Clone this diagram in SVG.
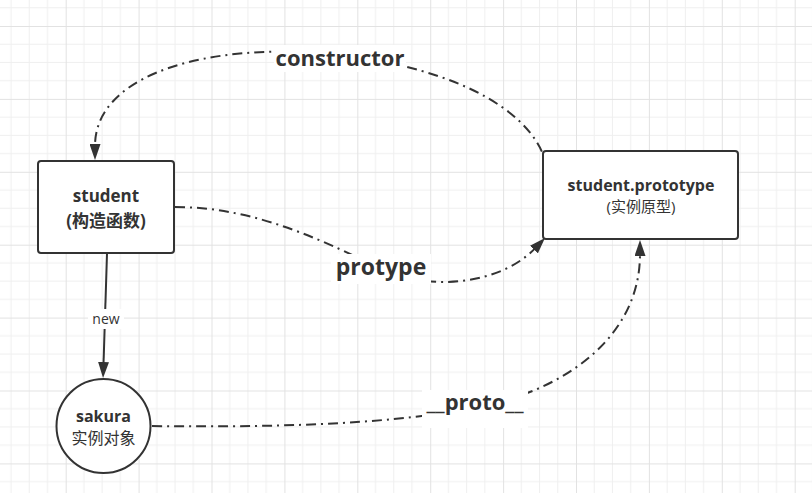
<svg xmlns="http://www.w3.org/2000/svg" width="812" height="493" viewBox="0 0 812 493">
<style>
.node{fill:#fff;stroke:#333;stroke-width:2}
.edge{fill:none;stroke:#333;stroke-width:2;stroke-dasharray:10 5 2 5}
.solid{fill:none;stroke:#333;stroke-width:2}
text{font-family:"Open Sans","Noto Sans CJK SC",sans-serif;fill:#333;text-anchor:middle}
.b{font-weight:bold}
.lbl{font-size:22px;font-weight:bold}
.bg{fill:#fff}
</style>
<defs>
<pattern id="grid" patternUnits="userSpaceOnUse" x="65.7" y="26" width="72.9" height="72.9">
<path d="M18.22 0V72.9M36.45 0V72.9M54.67 0V72.9M0 18.22H72.9M0 36.45H72.9M0 54.67H72.9" stroke="#efefef" stroke-width="1" fill="none"/>
<path d="M0.5 0V72.9M0 0.5H72.9" stroke="#e2e2e2" stroke-width="1" fill="none"/>
</pattern>
<marker id="arr" viewBox="0 0 16 11" markerWidth="16" markerHeight="11" markerUnits="userSpaceOnUse" refX="2" refY="5.5" orient="auto">
<path d="M0,0L16,5.5L0,11Z" fill="#333"/>
</marker>
</defs>
<rect width="812" height="493" fill="#fff"/>
<rect width="812" height="493" fill="url(#grid)"/>
<g id="connectors">
<g id="edge-new">
<path class="solid" d="M107 254L103.5 364" marker-end="url(#arr)"/>
<rect class="bg" x="88" y="309" width="36" height="20"/>
<text x="106" y="324" font-size="14">new</text>
</g>
<g id="edge-constructor">
<path class="edge" d="M545 195L545 160C530 110 450 60 300 52C190 48 95 80 95 146" marker-end="url(#arr)"/>
<rect class="bg" x="274" y="45" width="132" height="27"/>
<text class="lbl" x="340" y="66">constructor</text>
</g>
<g id="edge-protype">
<path class="edge" d="M175 207C260 207 330 245 380 268C428 292 500 285 535.3 248.1" marker-end="url(#arr)"/>
<rect class="bg" x="331" y="254" width="100" height="30"/>
<text x="381" y="275" font-size="23" font-weight="bold">protype</text>
</g>
<g id="edge-proto">
<path class="edge" d="M152 426C300 428 400 422 475 408C560 392 640 340 640 254" marker-end="url(#arr)"/>
<rect class="bg" x="422" y="390" width="106" height="38"/>
<text class="lbl" x="475" y="410">__proto__</text>
</g>
</g>
<g id="student">
<rect class="node" x="38" y="161" width="136" height="92" rx="3"/>
<text class="b" x="106" y="202" font-size="17">student</text>
<text class="b" x="106" y="227" font-size="17">(构造函数)</text>
</g>
<g id="prototype">
<rect class="node" x="543" y="151" width="195" height="88" rx="3"/>
<text class="b" x="641" y="191" font-size="16">student.prototype</text>
<text x="641" y="212" font-size="15">(实例原型)</text>
</g>
<g id="sakura">
<circle class="node" cx="103.5" cy="426" r="47"/>
<text class="b" x="103.5" y="422" font-size="16">sakura</text>
<text x="103.5" y="444" font-size="16">实例对象</text>
</g>
</svg>
